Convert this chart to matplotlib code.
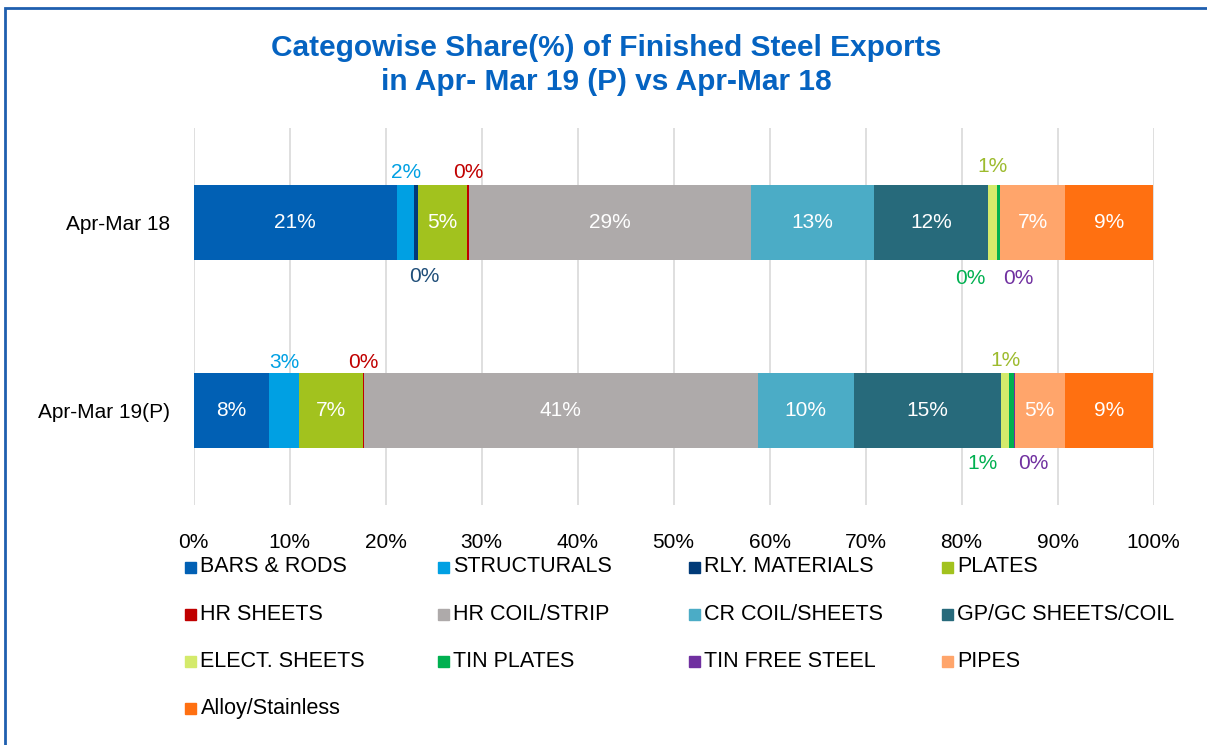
import matplotlib.pyplot as plt
from matplotlib.patches import Rectangle

plt.rcParams["font.family"] = ["Liberation Sans", "DejaVu Sans"]

# Category shares (%)
periods = ["Apr-Mar 18", "Apr-Mar 19(P)"]
categories = [
    "BARS & RODS", "STRUCTURALS", "RLY. MATERIALS", "PLATES",
    "HR SHEETS", "HR COIL/STRIP", "CR COIL/SHEETS", "GP/GC SHEETS/COIL",
    "ELECT. SHEETS", "TIN PLATES", "TIN FREE STEEL", "PIPES",
    "Alloy/Stainless",
]
share_18 = [21.2, 1.8, 0.4, 5.1, 0.2, 29.4, 12.8, 11.9, 0.9, 0.3, 0.05, 6.7, 9.25]
share_19 = [7.9, 3.1, 0.0, 6.7, 0.05, 41.0, 10.0, 15.4, 0.8, 0.55, 0.05, 5.2, 9.25]

colors = [
    "#0160B4", "#00A0E3", "#003A78", "#A2C21E",
    "#C00000", "#AEAAAA", "#4BACC6", "#276A7B",
    "#D4EA6B", "#00B050", "#7030A0", "#FFA56B",
    "#FF7011",
]
# small segments get their label outside the bar, in a matching colour
label_colors = {1: "#00A0E3", 2: "#1F4E79", 4: "#C00000", 8: "#9DBB2E",
                9: "#00B050", 10: "#7030A0"}
inside = {0, 3, 5, 6, 7, 11, 12}
# pixel offsets of the outside labels, per period (dx, dy)
outside_offsets = [
    {1: (0, 50), 2: (8, -54), 4: (0, 50), 8: (0, 56), 9: (-28, -56), 10: (18, -56)},
    {1: (0, 48), 4: (0, 48), 8: (0, 50), 9: (-29, -53), 10: (19, -53)},
]

fig = plt.figure(figsize=(12.07, 7.45), dpi=100)
W, H = 1207, 745
ax = fig.add_axes([193.5 / W, 1 - 505 / H, 960 / W, 377 / H])

series = [share_18, share_19]
ypos = [0, 1]
left = [0.0, 0.0]
for i, cat in enumerate(categories):
    vals = [s[i] for s in series]
    ax.barh(ypos, vals, left=left, height=0.4, color=colors[i], label=cat, zorder=3)
    for p in range(2):
        v = vals[p]
        cx = left[p] + v / 2
        txt = f"{v:.0f}%"
        if i in inside:
            ax.text(cx, ypos[p], txt, color="white", fontsize=15,
                    ha="center", va="center", zorder=4)
        elif i in outside_offsets[p]:
            dx, dy = outside_offsets[p][i]
            ax.annotate(txt, (cx, ypos[p]), xytext=(dx, dy),
                        textcoords="offset pixels", color=label_colors[i],
                        fontsize=15, ha="center", va="center", zorder=4)
    left = [left[p] + vals[p] for p in range(2)]

ax.set_xlim(0, 100)
ax.set_ylim(1.5, -0.5)
ax.set_xticks(range(0, 101, 10))
ax.set_xticklabels([f"{t}%" for t in range(0, 101, 10)])
ax.set_yticks(ypos)
ax.set_yticklabels(periods)
ax.tick_params(axis="x", length=0, pad=20, labelsize=15, colors="black")
ax.tick_params(axis="y", length=0, pad=17, labelsize=15, colors="black")
ax.grid(axis="x", color="#D9D9D9", linewidth=1.2, zorder=0)
for s in ax.spines.values():
    s.set_visible(False)

fig.text(606.5 / W, 1 - 56 / H, "Categowise Share(%) of Finished Steel Exports",
         ha="center", va="baseline", fontsize=21.5, fontweight="bold", color="#0563C1")
fig.text(606.5 / W, 1 - 90 / H, "in Apr- Mar 19 (P) vs Apr-Mar 18",
         ha="center", va="baseline", fontsize=21.5, fontweight="bold", color="#0563C1")

# legend laid out row by row, 4 columns
col_x = [185, 437.7, 689, 941.5]
row_y = [567, 614, 661.5, 708.5]
for i, cat in enumerate(categories):
    r, c = divmod(i, 4)
    x0, y0 = col_x[c], row_y[r]
    fig.patches.append(Rectangle((x0 / W, 1 - (y0 + 5.5) / H), 11 / W, 11 / H,
                                 transform=fig.transFigure, color=colors[i]))
    fig.text((x0 + 15.5) / W, 1 - y0 / H, cat, ha="left", va="center",
             fontsize=15.5, color="black")

# chart border (cut at right and bottom in the original)
fig.patches.append(Rectangle((5 / W, -0.05), 1.1, 1 - 8 / H + 0.05,
                             transform=fig.transFigure, fill=False,
                             edgecolor="#1F5FAF", linewidth=2))

fig.savefig("out.png", dpi=100)
